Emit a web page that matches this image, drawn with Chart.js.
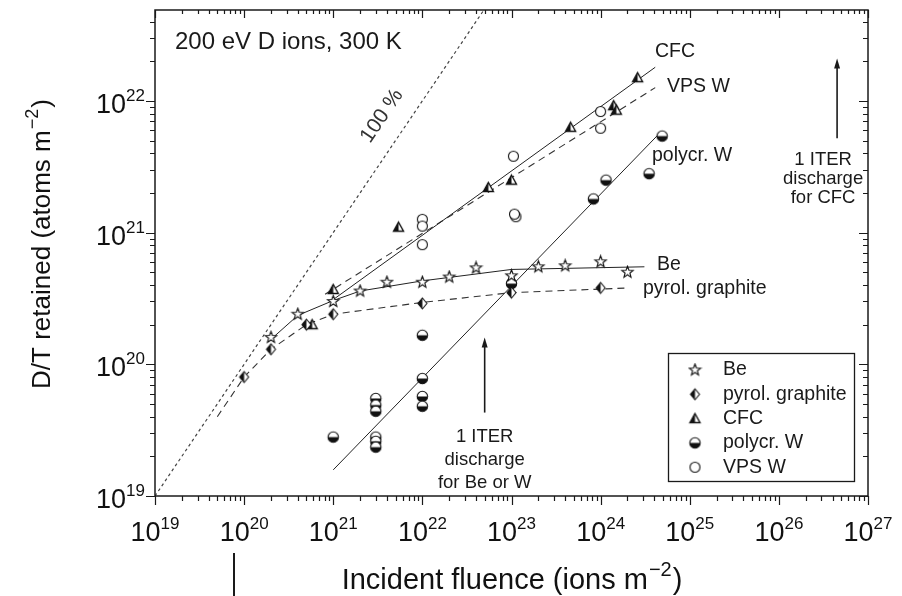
<!DOCTYPE html>
<html>
<head>
<meta charset="utf-8">
<script src="https://cdn.jsdelivr.net/npm/chart.js@4.4.1/dist/chart.umd.min.js"></script>
<style>
  html, body { margin: 0; padding: 0; background: #fff; }
  #wrap { width: 902px; height: 596px; }
</style>
</head>
<body>
<div id="wrap"><canvas id="chart" width="902" height="596"></canvas></div>
<script>
const FONT = '"Liberation Sans", Arial, Helvetica, sans-serif';

// axis ranges (log10 decades)
const xDecades = [19, 20, 21, 22, 23, 24, 25, 26, 27];
const yDecades = [19, 20, 21, 22];
const xMin = 1e19, xMax = 1e27;
const yMin = 1e19, yMax = Math.pow(10, 22.69);

// measured points
const beFluence = [2e20, 4e20, 1e21, 2e21, 4e21, 1e22, 2e22, 4e22, 1e23, 2e23, 4e23, 1e24, 2e24];
const beRetained = [1.6e20, 2.4e20, 3.0e20, 3.6e20, 4.2e20, 4.2e20, 4.6e20, 5.4e20, 4.7e20, 5.5e20, 5.6e20, 6.0e20, 5.0e20];

const graphiteFluence = [1e20, 2e20, 5e20, 1e21, 1e22, 1e23, 1e24];
const graphiteRetained = [8e19, 1.3e20, 2.0e20, 2.4e20, 2.9e20, 3.5e20, 3.8e20];

const cfcFluence = [5.8e20, 1e21, 5.4e21, 5.5e22, 1e23, 4.6e23, 1.4e24, 1.5e24, 2.6e24];
const cfcRetained = [2.0e20, 3.7e20, 1.1e21, 2.2e21, 2.5e21, 6.3e21, 9.2e21, 8.5e21, 1.5e22];

const polyWFluence = [1e21, 3e21, 3e21, 3e21, 3e21, 3e21, 3e21, 1e22, 1e22, 1e22, 1e22, 1e23, 8.3e23, 1.15e24, 3.5e24, 4.9e24];
const polyWRetained = [2.8e19, 5.5e19, 4.9e19, 4.4e19, 2.8e19, 2.6e19, 2.35e19, 1.66e20, 7.8e19, 5.7e19, 4.8e19, 4.1e20, 1.8e21, 2.5e21, 2.8e21, 5.4e21];

const vpsFluence = [1e22, 1e22, 1e22, 1.05e23, 1.12e23, 1.08e23, 1e24, 1e24];
const vpsRetained = [1.26e21, 1.12e21, 8.1e20, 3.8e21, 1.32e21, 1.38e21, 8.3e21, 6.2e21];

// fitted / guide lines
const beFitX = [1.9e20, 4e20, 1e21, 2e21, 1e22, 1e23, 3.1e24];
const beFitY = [1.5e20, 2.35e20, 3.05e20, 3.6e20, 4.3e20, 5.25e20, 5.5e20];
const graphiteFitX = [5e19, 1e20, 2e20, 5e20, 1e21, 1e22, 1e23, 2.1e24];
const graphiteFitY = [4e19, 8e19, 1.3e20, 2.0e20, 2.4e20, 2.95e20, 3.5e20, 3.8e20];
const cfcFitX = [1e21, 4.1e24];
const cfcFitY = [3.1e20, 1.8e22];
const vpsFitX = [8.1e20, 4.1e24];
const vpsFitY = [3.4e20, 1.26e22];
const polyWFitX = [1e21, 4.5e24];
const polyWFitY = [1.58e19, 5.6e21];
const fullX = [1e19, yMax];
const fullY = [1e19, yMax];

const legendNames = ["Be", "pyrol. graphite", "CFC", "polycr. W", "VPS W"];

function zip(xs, ys) {
  return xs.map((x, i) => ({ x, y: ys[i] }));
}

function marker(draw) {
  const c = document.createElement("canvas");
  c.width = 15;
  c.height = 15;
  const g = c.getContext("2d");
  g.translate(7.5, 7.5);
  g.lineWidth = 1.1;
  g.strokeStyle = "#111";
  g.fillStyle = "#fff";
  draw(g);
  return c;
}

const starMark = marker((g) => {
  g.beginPath();
  for (let i = 0; i < 10; i += 1) {
    const r = i % 2 ? 2.5 : 6;
    const a = -Math.PI / 2 + (i * Math.PI) / 5;
    g.lineTo(r * Math.cos(a), r * Math.sin(a));
  }
  g.closePath();
  g.fill();
  g.stroke();
});

const diamondMark = marker((g) => {
  g.beginPath();
  g.moveTo(0, -5.5); g.lineTo(4.5, 0); g.lineTo(0, 5.5); g.lineTo(-4.5, 0); g.closePath();
  g.fill();
  g.beginPath();
  g.moveTo(0, -5.5); g.lineTo(-4.5, 0); g.lineTo(0, 5.5); g.closePath();
  g.fillStyle = "#111";
  g.fill();
  g.beginPath();
  g.moveTo(0, -5.5); g.lineTo(4.5, 0); g.lineTo(0, 5.5); g.lineTo(-4.5, 0); g.closePath();
  g.stroke();
});

const triangleMark = marker((g) => {
  g.beginPath();
  g.moveTo(0, -5); g.lineTo(5, 4); g.lineTo(-5, 4); g.closePath();
  g.fill();
  g.beginPath();
  g.moveTo(0, -5); g.lineTo(0, 4); g.lineTo(-5, 4); g.closePath();
  g.fillStyle = "#111";
  g.fill();
  g.beginPath();
  g.moveTo(0, -5); g.lineTo(5, 4); g.lineTo(-5, 4); g.closePath();
  g.lineWidth = 1.4;
  g.stroke();
});

const halfCircleMark = marker((g) => {
  g.beginPath();
  g.arc(0, 0, 5.2, 0, Math.PI * 2);
  g.fill();
  g.beginPath();
  g.arc(0, 0, 5.2, 0, Math.PI);
  g.fillStyle = "#111";
  g.fill();
  g.beginPath();
  g.arc(0, 0, 5.2, 0, Math.PI * 2);
  g.stroke();
});

const circleMark = marker((g) => {
  g.beginPath();
  g.arc(0, 0, 5, 0, Math.PI * 2);
  g.fill();
  g.stroke();
});

const legendMarks = [starMark, diamondMark, triangleMark, halfCircleMark, circleMark];

function pointSet(label, xs, ys, mark) {
  return { label, data: zip(xs, ys), pointStyle: mark, pointRadius: 6, showLine: false, order: 0 };
}

function lineSet(label, xs, ys, dash, color, width) {
  return {
    label, data: zip(xs, ys), showLine: true, pointRadius: 0, borderColor: color,
    borderWidth: width || 1, borderDash: dash, fill: false, tension: 0, order: 1,
  };
}

function drawPow(ctx, exp, x, y, align, baseSize, expSize) {
  ctx.font = `${baseSize}px ${FONT}`;
  const wBase = ctx.measureText("10").width;
  ctx.font = `${expSize}px ${FONT}`;
  const wExp = ctx.measureText(String(exp)).width;
  const total = wBase + wExp;
  let left = x;
  if (align === "center") left = x - total / 2;
  if (align === "right") left = x - total;
  ctx.textAlign = "left";
  ctx.textBaseline = "alphabetic";
  ctx.font = `${baseSize}px ${FONT}`;
  ctx.fillText("10", left, y);
  ctx.font = `${expSize}px ${FONT}`;
  ctx.fillText(String(exp), left + wBase, y - 12);
}

function drawSupText(ctx, before, sup, after, cx, y, size) {
  ctx.font = `${size}px ${FONT}`;
  const w1 = ctx.measureText(before).width;
  const w3 = ctx.measureText(after).width;
  ctx.font = `${Math.round(size * 0.68)}px ${FONT}`;
  const w2 = ctx.measureText(sup).width;
  const left = cx - (w1 + w2 + w3) / 2;
  ctx.textAlign = "left";
  ctx.textBaseline = "alphabetic";
  ctx.font = `${size}px ${FONT}`;
  ctx.fillText(before, left, y);
  ctx.font = `${Math.round(size * 0.68)}px ${FONT}`;
  ctx.fillText(sup, left + w1 + 1, y - size * 0.45);
  ctx.font = `${size}px ${FONT}`;
  ctx.fillText(after, left + w1 + w2 + 2, y);
}

function arrow(ctx, x, yFrom, yTo) {
  ctx.beginPath();
  ctx.moveTo(x, yFrom);
  ctx.lineTo(x, yTo + 6);
  ctx.lineWidth = 1.6;
  ctx.stroke();
  ctx.beginPath();
  ctx.moveTo(x, yTo);
  ctx.lineTo(x - 3, yTo + 10);
  ctx.lineTo(x + 3, yTo + 10);
  ctx.closePath();
  ctx.fill();
}

const framePlugin = {
  id: "frame",
  afterDraw(chart) {
    const { ctx, chartArea: a, scales } = chart;
    const sx = scales.x, sy = scales.y;
    ctx.save();
    ctx.strokeStyle = "#1a1a1a";
    ctx.fillStyle = "#1a1a1a";
    ctx.lineWidth = 1.5;
    ctx.strokeRect(a.left, a.top, a.right - a.left, a.bottom - a.top);

    ctx.lineWidth = 1.2;
    ctx.beginPath();
    for (let d = 19; d <= 27; d += 1) {
      for (let m = 1; m <= 9; m += 1) {
        const v = m * Math.pow(10, d);
        if (v > xMax * 1.0001) continue;
        const px = Math.round(sx.getPixelForValue(v)) + 0.5;
        const major = m === 1;
        ctx.moveTo(px, a.bottom);
        ctx.lineTo(px, a.bottom + (major ? 9 : 5));
        ctx.moveTo(px, a.top);
        ctx.lineTo(px, a.top + (major ? 8 : 4));
      }
    }
    for (let d = 19; d <= 22; d += 1) {
      for (let m = 1; m <= 9; m += 1) {
        const v = m * Math.pow(10, d);
        if (v > yMax) continue;
        const py = Math.round(sy.getPixelForValue(v)) + 0.5;
        const major = m === 1;
        ctx.moveTo(a.left, py);
        ctx.lineTo(a.left - (major ? 9 : 5), py);
        ctx.moveTo(a.right, py);
        ctx.lineTo(a.right - (major ? 9 : 5), py);
      }
    }
    ctx.stroke();

    // tick labels
    ctx.fillStyle = "#111";
    for (const d of xDecades) {
      drawPow(ctx, d, sx.getPixelForValue(Math.pow(10, d)), 541, "center", 27, 17);
    }
    for (const d of yDecades) {
      drawPow(ctx, d, 145, sy.getPixelForValue(Math.pow(10, d)) + 12, "right", 27, 17);
    }

    // axis titles
    drawSupText(ctx, "Incident fluence (ions m", "\u22122", ")", 511, 589, 29);
    ctx.save();
    ctx.translate(50, 245);
    ctx.rotate(-Math.PI / 2);
    drawSupText(ctx, "D/T retained (atoms m", "\u22122", ")", 0, 0, 26);
    ctx.restore();

    // short mark under the axis
    ctx.beginPath();
    const stubX = Math.round(sx.getPixelForValue(7.7e19));
    ctx.moveTo(stubX, 553);
    ctx.lineTo(stubX, 596);
    ctx.lineWidth = 2;
    ctx.stroke();

    // annotations
    ctx.fillStyle = "#1a1a1a";
    ctx.textBaseline = "middle";
    ctx.textAlign = "left";
    ctx.font = `24px ${FONT}`;
    ctx.fillText("200 eV D ions, 300 K", 175, 42);
    ctx.font = `19.5px ${FONT}`;
    ctx.fillText("CFC", 655, 52);
    ctx.fillText("VPS W", 667, 87);
    ctx.fillText("polycr. W", 652, 156);
    ctx.fillText("Be", 657, 265);
    ctx.fillText("pyrol. graphite", 643, 289);

    ctx.save();
    ctx.translate(382, 116);
    ctx.rotate(-Math.atan2(sy.getPixelForValue(1e19) - sy.getPixelForValue(1e20), sx.getPixelForValue(1e20) - sx.getPixelForValue(1e19)));
    ctx.textAlign = "center";
    ctx.font = `21px ${FONT}`;
    ctx.fillStyle = "#333";
    ctx.fillText("100 %", 0, 0);
    ctx.restore();

    ctx.textAlign = "center";
    ctx.font = `18.5px ${FONT}`;
    const cfcArrowX = sx.getPixelForValue(4.5e26);
    ctx.fillText("1 ITER", cfcArrowX - 14, 160);
    ctx.fillText("discharge", cfcArrowX - 14, 179);
    ctx.fillText("for CFC", cfcArrowX - 14, 198);
    arrow(ctx, cfcArrowX, sy.getPixelForValue(5.2e21), sy.getPixelForValue(2.1e22));

    const wArrowX = sx.getPixelForValue(5e22);
    ctx.fillText("1 ITER", wArrowX, 437);
    ctx.fillText("discharge", wArrowX, 460);
    ctx.fillText("for Be or W", wArrowX, 483);
    arrow(ctx, wArrowX, sy.getPixelForValue(4.3e19), sy.getPixelForValue(1.6e20));

    // legend box
    ctx.lineWidth = 1.3;
    ctx.strokeRect(668.5, 353.5, 186, 128);
    ctx.textAlign = "left";
    ctx.font = `19.5px ${FONT}`;
    legendNames.forEach((name, i) => {
      const y = 370 + i * 24.3;
      ctx.drawImage(legendMarks[i], 695 - 7.5, y - 7.5);
      ctx.fillText(name, 723, y);
    });
    ctx.restore();
  },
};

new Chart(document.getElementById("chart"), {
  type: "scatter",
  data: {
    datasets: [
      pointSet("Be", beFluence, beRetained, starMark),
      pointSet("pyrol. graphite", graphiteFluence, graphiteRetained, diamondMark),
      pointSet("CFC", cfcFluence, cfcRetained, triangleMark),
      pointSet("polycr. W", polyWFluence, polyWRetained, halfCircleMark),
      pointSet("VPS W", vpsFluence, vpsRetained, circleMark),
      lineSet("100 %", fullX, fullY, [3, 3], "#444", 1.2),
      lineSet("Be fit", beFitX, beFitY, [], "#222", 1),
      lineSet("graphite fit", graphiteFitX, graphiteFitY, [7, 5], "#333", 1.1),
      lineSet("CFC fit", cfcFitX, cfcFitY, [], "#222", 1),
      lineSet("VPS W fit", vpsFitX, vpsFitY, [7, 5], "#333", 1.1),
      lineSet("polycr. W fit", polyWFitX, polyWFitY, [], "#222", 1),
    ],
  },
  options: {
    responsive: false,
    animation: false,
    devicePixelRatio: 1,
    layout: { padding: { left: 155, right: 34, top: 10, bottom: 100 } },
    scales: {
      x: { type: "logarithmic", min: xMin, max: xMax, display: false },
      y: { type: "logarithmic", min: yMin, max: yMax, display: false },
    },
    plugins: { legend: { display: false }, tooltip: { enabled: false } },
  },
  plugins: [framePlugin],
});
</script>
</body>
</html>
